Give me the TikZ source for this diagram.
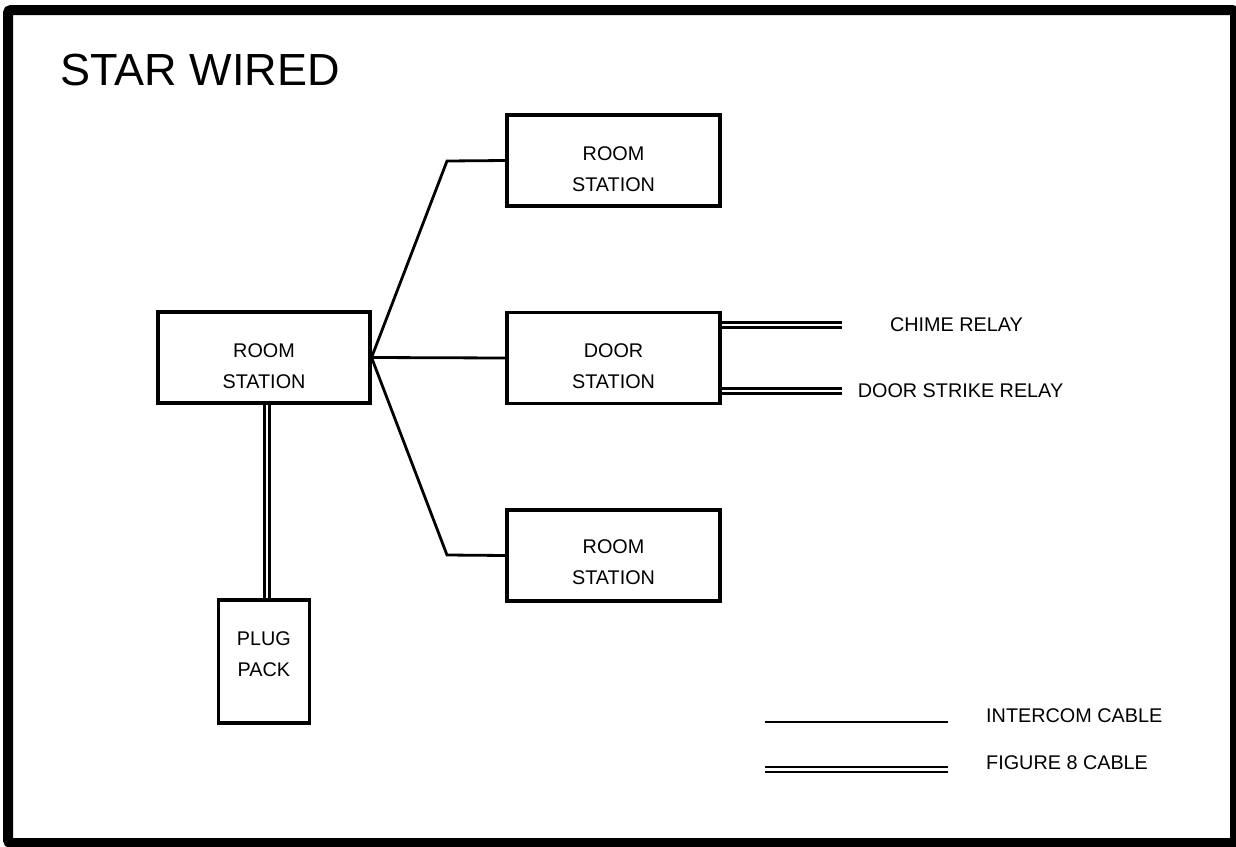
\documentclass[tikz,border=0pt]{standalone}
\usepackage{fontspec}
\setmainfont{Liberation Sans}
\begin{document}
\begin{tikzpicture}[x=1pt,y=-1pt,
  box/.style={draw,line width=3.1pt,inner sep=0pt,minimum width=213pt,minimum height=91pt},
  txt/.style={inner sep=0pt,align=center,font=\fontsize{19.8}{31}\selectfont},
  wire/.style={line width=2.8pt},
  fig8/.style={draw,double,line width=2.6pt,double distance=2.1pt}]
\useasboundingbox (0,0) rectangle (1236,846);
\fill[white] (0,0) rectangle (1236,846);
\draw[line width=10pt,rounded corners=3pt] (8,10) rectangle (1235,843);
\node[inner sep=0pt,anchor=base west,font=\fontsize{45}{54}\selectfont] (title) at (60.5,85) {STAR WIRED};
% boxes
\node[box,minimum width=212pt] (rsL) at (264,357.5) {};
\node[box] (rs1) at (613.5,160.5) {};
\node[box] (ds) at (613.5,358) {};
\node[box] (rs3) at (613.5,555.5) {};
\node[box,minimum width=91pt,minimum height=123pt] (pp) at (263.8,661.5) {};
% texts
\node[txt] (tL) at ([yshift=-8.5pt]rsL.center) {ROOM\\STATION};
\node[txt] (t1) at ([yshift=-9pt]rs1.center) {ROOM\\STATION};
\node[txt] (tD) at ([yshift=-8pt]ds.center) {DOOR\\STATION};
\node[txt] (t3) at ([yshift=-7pt]rs3.center) {ROOM\\STATION};
\node[txt] (tP) at (263.8,654.5) {PLUG\\PACK};
% intercom connectors
\coordinate (k1) at (447,161);
\coordinate (k3) at (447,555);
\draw[wire,line join=miter] (rsL.east) -- (k1) -- (rs1.west);
\draw[wire] (rsL.east) -- (ds.west);
\draw[wire,line join=miter] (rsL.east) -- (k3) -- (rs3.west);
% figure 8 cables
\coordinate (chE) at (842,325);
\coordinate (dsE) at (842,391);
\draw[fig8] (ds.east |- chE) -- (chE);
\draw[fig8] (ds.east |- dsE) -- (dsE);
\coordinate (pj) at (267,0);
\draw[fig8] (rsL.south -| pj) -- (pp.north -| pj);
\node[txt,anchor=base] (chime) at (956.5,331) {CHIME RELAY};
\node[txt,anchor=base] (strike) at (960.5,397) {DOOR STRIKE RELAY};
% legend
\coordinate (l1a) at (765,722);
\coordinate (l1b) at (948,722);
\coordinate (l2a) at (765,769.5);
\coordinate (l2b) at (948,769.5);
\draw[wire] (l1a) -- (l1b);
\draw[fig8] (l2a) -- (l2b);
\node[txt,anchor=base west] (lg1) at (986,722) {INTERCOM CABLE};
\node[txt,anchor=base west] (lg2) at (986,769) {FIGURE 8 CABLE};
\end{tikzpicture}
\end{document}
